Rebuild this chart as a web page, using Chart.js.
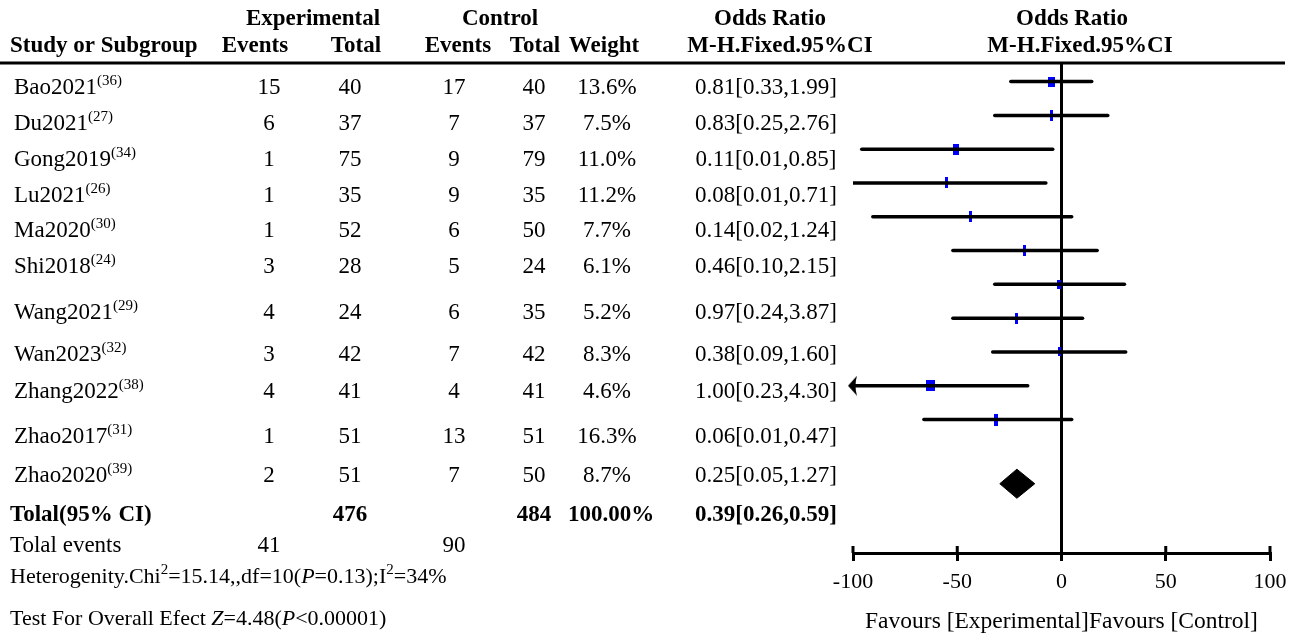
<!DOCTYPE html>
<html>
<head>
<meta charset="utf-8">
<title>Forest plot</title>
<script src="https://cdn.jsdelivr.net/npm/chart.js@4.4.1/dist/chart.umd.min.js"></script>
<style>
  html, body { margin: 0; padding: 0; background: #fff; }
  canvas { display: block; }
</style>
</head>
<body>
<canvas id="forest" width="1303" height="637"></canvas>
<script>
/* global Chart */
// study table
const studies = ['Bao2021', 'Du2021', 'Gong2019', 'Lu2021', 'Ma2020', 'Shi2018',
  'Wang2021', 'Wan2023', 'Zhang2022', 'Zhao2017', 'Zhao2020'];
const refs = ['36', '27', '34', '26', '30', '24', '29', '32', '38', '31', '39'];
const expEvents = [15, 6, 1, 1, 1, 3, 4, 3, 4, 1, 2];
const expTotal = [40, 37, 75, 35, 52, 28, 24, 42, 41, 51, 51];
const ctlEvents = [17, 7, 9, 9, 6, 5, 6, 7, 4, 13, 7];
const ctlTotal = [40, 37, 79, 35, 50, 24, 35, 42, 41, 51, 50];
const weights = [13.6, 7.5, 11.0, 11.2, 7.7, 6.1, 5.2, 8.3, 4.6, 16.3, 8.7];
const oddsRatio = [0.81, 0.83, 0.11, 0.08, 0.14, 0.46, 0.97, 0.38, 1.00, 0.06, 0.25];
const ciLower = [0.33, 0.25, 0.01, 0.01, 0.02, 0.10, 0.24, 0.09, 0.23, 0.01, 0.05];
const ciUpper = [1.99, 2.76, 0.85, 0.71, 1.24, 2.15, 3.87, 1.60, 4.30, 0.47, 1.27];
const pooled = { or: 0.39, lo: 0.26, hi: 0.59, expTotal: 476, ctlTotal: 484, weight: '100.00%' };
const totalEvents = [41, 90];

// plotted marks on the -100..100 axis
const plotMid = [-4.9, -4.9, -50.7, -55.2, -43.5, -17.7, -1.4, -21.6, -1.0, -63.0, -31.5];
const plotLow = [-24.3, -32.0, -95.8, -100, -90.5, -52.1, -32.0, -52.1, -33.0, -104, -66.0];
const plotHigh = [14.5, 22.2, -4.2, -7.5, 4.9, 17.1, 30.2, 10.1, 30.8, -16.2, 4.9];
const pooledMark = { lo: -29.6, mid: -21.4, hi: -12.8, row: 12.9 };
const xTicks = [-100, -50, 0, 50, 100];

// box sizes in px (width, height)
const boxW = [7, 3, 6, 3, 3, 3, 4, 3, 3, 9, 4];
const boxH = [10, 11, 11, 11, 11, 11, 9, 11, 9, 11, 12];

const FONT = '"Liberation Serif", "Times New Roman", serif';
const SIZE = 23;
const SUP = 15;
const X_MIN = xTicks[0];
const X_MAX = xTicks[xTicks.length - 1];

// text layout
const col = { name: 14, expEv: 269, expTot: 350, ctlEv: 454, ctlTot: 534, weight: 607, or: 766 };
const rowY = [88, 124, 160, 196, 231, 267, 313, 355, 392, 437, 476];
const footY = { total: 515, events: 546, het: 577, test: 619 };

function makeBox(w, h) {
  const c = document.createElement('canvas');
  c.width = w;
  c.height = h;
  const g = c.getContext('2d');
  g.fillStyle = '#0000ff';
  g.fillRect(0, 0, w, h);
  return c;
}

function makeArrow() {
  const c = document.createElement('canvas');
  c.width = 10;
  c.height = 20;
  const g = c.getContext('2d');
  g.fillStyle = '#000';
  g.beginPath();
  g.moveTo(0, 10);
  g.lineTo(9, 0);
  g.quadraticCurveTo(6, 10, 9, 20);
  g.closePath();
  g.fill();
  return c;
}

function fmt(v) { return v.toFixed(2); }
function orLabel(o, l, h) { return `${fmt(o)}[${fmt(l)},${fmt(h)}]`; }

function drawRich(ctx, parts, x, y, align, size = SIZE) {
  const fontFor = (p) => `${p.i ? 'italic ' : ''}${p.b ? 'bold ' : ''}${p.sup ? SUP : size}px ${FONT}`;
  let total = 0;
  parts.forEach((p) => {
    ctx.font = fontFor(p);
    p.w = ctx.measureText(p.t).width;
    total += p.w;
  });
  let cx = x;
  if (align === 'center') cx = x - total / 2;
  else if (align === 'right') cx = x - total;
  ctx.textAlign = 'left';
  ctx.textBaseline = 'middle';
  parts.forEach((p) => {
    ctx.font = fontFor(p);
    ctx.fillText(p.t, cx, p.sup ? y - 7 : y);
    cx += p.w;
  });
}

function text(ctx, t, x, y, align, bold) {
  drawRich(ctx, [{ t, b: bold }], x, y, align);
}

const tablePlugin = {
  id: 'studyTable',
  afterDraw(chart) {
    const { ctx } = chart;
    ctx.save();
    ctx.fillStyle = '#000';

    // header
    text(ctx, 'Experimental', 313, 19, 'center', true);
    text(ctx, 'Control', 500, 19, 'center', true);
    text(ctx, 'Odds Ratio', 770, 19, 'center', true);
    text(ctx, 'Odds Ratio', 1072, 19, 'center', true);
    text(ctx, 'Study or Subgroup', 10, 46, 'left', true);
    text(ctx, 'Events', 255, 46, 'center', true);
    text(ctx, 'Total', 356, 46, 'center', true);
    text(ctx, 'Events', 458, 46, 'center', true);
    text(ctx, 'Total', 535, 46, 'center', true);
    text(ctx, 'Weight', 604, 46, 'center', true);
    text(ctx, 'M-H.Fixed.95%CI', 780, 46, 'center', true);
    text(ctx, 'M-H.Fixed.95%CI', 1080, 46, 'center', true);

    // rule under the header
    ctx.strokeStyle = '#000';
    ctx.lineWidth = 3;
    ctx.beginPath();
    ctx.moveTo(0, 63);
    ctx.lineTo(1285, 63);
    ctx.stroke();

    studies.forEach((s, i) => {
      const y = rowY[i];
      drawRich(ctx, [{ t: s }, { t: `(${refs[i]})`, sup: true }], col.name, y, 'left');
      text(ctx, String(expEvents[i]), col.expEv, y, 'center');
      text(ctx, String(expTotal[i]), col.expTot, y, 'center');
      text(ctx, String(ctlEvents[i]), col.ctlEv, y, 'center');
      text(ctx, String(ctlTotal[i]), col.ctlTot, y, 'center');
      text(ctx, `${weights[i].toFixed(1)}%`, col.weight, y, 'center');
      text(ctx, orLabel(oddsRatio[i], ciLower[i], ciUpper[i]), col.or, y, 'center');
    });

    text(ctx, 'Tolal(95% CI)', 10, footY.total, 'left', true);
    text(ctx, String(pooled.expTotal), col.expTot, footY.total, 'center', true);
    text(ctx, String(pooled.ctlTotal), col.ctlTot, footY.total, 'center', true);
    text(ctx, pooled.weight, col.weight + 4, footY.total, 'center', true);
    text(ctx, orLabel(pooled.or, pooled.lo, pooled.hi), col.or, footY.total, 'center', true);

    text(ctx, 'Tolal events', 10, footY.events, 'left');
    text(ctx, String(totalEvents[0]), col.expEv, footY.events, 'center');
    text(ctx, String(totalEvents[1]), col.ctlEv, footY.events, 'center');

    drawRich(ctx, [
      { t: 'Heterogenity.Chi' }, { t: '2', sup: true }, { t: '=15.14,,df=10(' },
      { t: 'P', i: true }, { t: '=0.13);I' }, { t: '2', sup: true }, { t: '=34%' },
    ], 10, footY.het, 'left', 22);
    drawRich(ctx, [
      { t: 'Test For Overall Efect ' }, { t: 'Z', i: true }, { t: '=4.48(' },
      { t: 'P', i: true }, { t: '<0.00001)' },
    ], 10, footY.test, 'left', 22);
    ctx.restore();
  },
};

// tick marks cross the axis line
const tickCross = {
  id: 'tickCross',
  afterDraw(chart) {
    const { ctx, chartArea, scales: { x } } = chart;
    ctx.save();
    ctx.strokeStyle = '#000';
    ctx.lineWidth = 3;
    x.ticks.forEach((t) => {
      const px = x.getPixelForValue(t.value);
      ctx.beginPath();
      ctx.moveTo(px, chartArea.bottom);
      ctx.lineTo(px, chartArea.bottom - 7);
      ctx.stroke();
    });
    ctx.restore();
  },
};

const datasets = [];
studies.forEach((s, i) => {
  datasets.push({
    label: s,
    data: [{ x: Math.max(plotLow[i], X_MIN), y: i + 1 }, { x: plotHigh[i], y: i + 1 }],
    showLine: true,
    borderColor: '#000',
    borderWidth: 3.5,
    borderCapStyle: 'round',
    pointRadius: 0,
  });
});

// arrowheads for intervals running off the left end
const arrows = plotLow
  .map((v, i) => (v < X_MIN ? { x: X_MIN, y: i + 1 } : null))
  .filter(Boolean);
datasets.push({
  label: 'arrow',
  data: arrows,
  pointStyle: makeArrow(),
  pointRadius: 4,
  clip: false,
});

datasets.push({
  label: 'estimate',
  data: plotMid.map((v, i) => ({ x: v, y: i + 1 })),
  pointStyle: plotMid.map((v, i) => makeBox(boxW[i], boxH[i])),
  pointRadius: 4,
});

const half = 0.43;
datasets.push({
  label: 'pooled',
  data: [
    { x: pooledMark.lo, y: pooledMark.row },
    { x: pooledMark.mid, y: pooledMark.row - half },
    { x: pooledMark.hi, y: pooledMark.row },
    { x: pooledMark.mid, y: pooledMark.row + half },
    { x: pooledMark.lo, y: pooledMark.row },
  ],
  showLine: true,
  borderColor: '#000',
  backgroundColor: '#000',
  borderWidth: 1,
  fill: 'shape',
  pointRadius: 0,
});

new Chart(document.getElementById('forest'), {
  type: 'scatter',
  data: { datasets },
  options: {
    animation: false,
    responsive: false,
    events: [],
    layout: { padding: { left: 853, right: 33, top: 63, bottom: 0 } },
    scales: {
      x: {
        type: 'linear',
        min: X_MIN,
        max: X_MAX,
        afterFit(scale) { scale.height = 84; },
        afterBuildTicks(scale) { scale.ticks = xTicks.map((value) => ({ value })); },
        border: { display: true, color: '#000', width: 3 },
        grid: {
          color: (c) => (c.tick && c.tick.value === 0 ? '#000' : 'rgba(0,0,0,0)'),
          lineWidth: 3,
          tickLength: 8,
          tickColor: '#000',
          tickWidth: 3,
        },
        ticks: {
          color: '#000',
          padding: 8,
          maxRotation: 0,
          font: { family: FONT, size: 22 },
        },
        title: {
          display: true,
          text: 'Favours [Experimental]Favours [Control]',
          color: '#000',
          font: { family: FONT, size: 23.5 },
          padding: { top: 0, bottom: 1 },
        },
      },
      y: { type: 'linear', reverse: true, min: 0.45, max: 14.95, display: false },
    },
    plugins: { legend: { display: false }, tooltip: { enabled: false } },
  },
  plugins: [tablePlugin, tickCross],
});
</script>
</body>
</html>
